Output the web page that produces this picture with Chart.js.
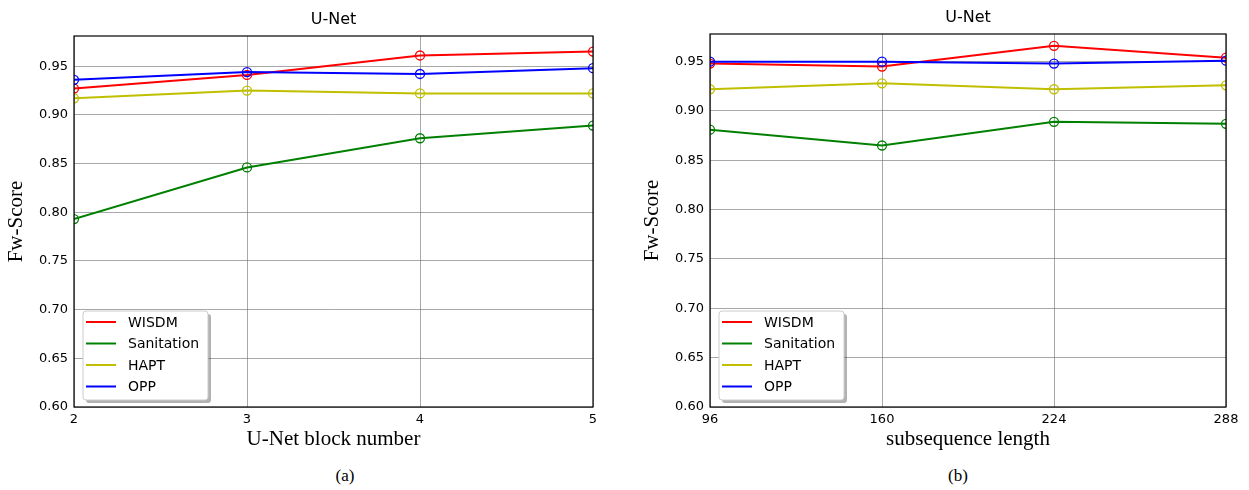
<!DOCTYPE html>
<html>
<head>
<meta charset="utf-8">
<script src="https://cdn.jsdelivr.net/npm/chart.js"></script>
<style>
	body { margin: 0; background: #fff; width: 1249px; height: 490px; position: relative; overflow: hidden; }
	canvas { position: absolute; top: 0; }
	#leftcanvas { left: 0; }
	#rightcanvas { left: 636px; }
	.sub { position: absolute; top: 466px; font-family: "Liberation Serif", "Times New Roman", serif; font-size: 17px; color: #000; transform: translateX(-50%); }
</style>
</head>
<body>
<canvas id="leftcanvas" width="624" height="460"></canvas>
<canvas id="rightcanvas" width="613" height="460"></canvas>
<div class="sub" style="left:345px">(a)</div>
<div class="sub" style="left:958px">(b)</div>
<script>
// series names and colours
var seriesNames = ["WISDM", "Sanitation", "HAPT", "OPP"];
var seriesColors = ["#ff0000", "#008000", "#bfbf00", "#0000ff"];

// (a) U-Net block number
var blockNumbers = [2, 3, 4, 5];
var wisdmBlock = [0.927, 0.941, 0.961, 0.965];
var sanitationBlock = [0.793, 0.846, 0.876, 0.889];
var haptBlock = [0.917, 0.925, 0.922, 0.922];
var oppBlock = [0.936, 0.944, 0.942, 0.948];

// (b) subsequence length
var seqLengths = [96, 160, 224, 288];
var wisdmSeq = [0.948, 0.945, 0.966, 0.954];
var sanitationSeq = [0.881, 0.865, 0.889, 0.887];
var haptSeq = [0.922, 0.928, 0.922, 0.926];
var oppSeq = [0.950, 0.950, 0.948, 0.951];

var yTicks = [0.60, 0.65, 0.70, 0.75, 0.80, 0.85, 0.90, 0.95];

var sansFont = '"DejaVu Sans", sans-serif';
var serifFont = '"Liberation Serif", "Times New Roman", serif';

// frame, title over the plot area, and a matplotlib-like legend in the lower left
var framePlugin = {
	id: 'frame',
	afterDatasetsDraw: function(chart) {
		var a = chart.chartArea, ctx = chart.ctx;
		ctx.save();
		ctx.strokeStyle = '#000';
		ctx.lineWidth = 1.2;
		ctx.strokeRect(a.left, a.top, a.right - a.left, a.bottom - a.top);
		ctx.restore();
	},
	afterDraw: function(chart) {
		var a = chart.chartArea, ctx = chart.ctx;
		ctx.save();
		ctx.fillStyle = '#000';
		ctx.font = '16px ' + sansFont;
		ctx.textAlign = 'center';
		ctx.textBaseline = 'middle';
		ctx.fillText(chart.options.plotTitle, (a.left + a.right) / 2, a.top - 16);

		// legend box
		var bx = a.left + 9, bw = 125, bh = 89, by = a.bottom - 7 - bh;
		ctx.fillStyle = 'rgba(0,0,0,0.3)';
		roundRect(ctx, bx + 3, by + 3, bw, bh, 3);
		ctx.fill();
		ctx.fillStyle = '#fff';
		ctx.strokeStyle = '#cccccc';
		ctx.lineWidth = 1;
		roundRect(ctx, bx, by, bw, bh, 3);
		ctx.fill();
		ctx.stroke();
		ctx.font = '14px ' + sansFont;
		ctx.textAlign = 'left';
		for (var i = 0; i < seriesNames.length; i++) {
			var ry = by + 11 + i * 21.5;
			ctx.strokeStyle = seriesColors[i];
			ctx.lineWidth = 2;
			ctx.beginPath();
			ctx.moveTo(bx + 3, ry);
			ctx.lineTo(bx + 33, ry);
			ctx.stroke();
			ctx.fillStyle = '#000';
			ctx.fillText(seriesNames[i], bx + 45, ry + 1);
		}
		ctx.restore();
	}
};

function roundRect(ctx, x, y, w, h, r) {
	ctx.beginPath();
	ctx.moveTo(x + r, y);
	ctx.lineTo(x + w - r, y);
	ctx.quadraticCurveTo(x + w, y, x + w, y + r);
	ctx.lineTo(x + w, y + h - r);
	ctx.quadraticCurveTo(x + w, y + h, x + w - r, y + h);
	ctx.lineTo(x + r, y + h);
	ctx.quadraticCurveTo(x, y + h, x, y + h - r);
	ctx.lineTo(x, y + r);
	ctx.quadraticCurveTo(x, y, x + r, y);
	ctx.closePath();
}

function makeDatasets(xs, seriesList) {
	return seriesList.map(function(vals, i) {
		return {
			label: seriesNames[i],
			data: xs.map(function(x, j) { return {x: x, y: vals[j]}; }),
			borderColor: seriesColors[i],
			borderWidth: 2,
			pointRadius: 4.5,
			pointBorderWidth: 1.3,
			pointBackgroundColor: 'rgba(0,0,0,0)',
			pointBorderColor: seriesColors[i],
			tension: 0,
			order: seriesList.length - i
		};
	});
}

function makeChart(id, xs, seriesList, xTitle, padTop, padRight, yMax) {
	var ctx = document.getElementById(id).getContext("2d");
	return new Chart(ctx, {
		type: 'line',
		data: { datasets: makeDatasets(xs, seriesList) },
		plugins: [framePlugin],
		options: {
			plotTitle: 'U-Net',
			responsive: false,
			animation: false,
			layout: { padding: { top: padTop, right: padRight, left: 0, bottom: 0 } },
			plugins: {
				legend: { display: false },
				title: { display: false },
				tooltip: { enabled: false }
			},
			scales: {
				x: {
					type: 'linear',
					min: xs[0],
					max: xs[xs.length - 1],
					afterBuildTicks: function(scale) {
						scale.ticks = xs.map(function(v) { return {value: v}; });
					},
					afterFit: function(scale) { scale.height = 53; },
					grid: { color: 'rgba(110,110,110,0.6)', lineWidth: 1, drawTicks: false },
					border: { display: false },
					ticks: { color: '#000', padding: 5, maxRotation: 0, font: { family: sansFont, size: 13 } },
					title: { display: true, text: xTitle, color: '#000', font: { family: serifFont, size: 21 }, padding: { top: 0, bottom: 8 } }
				},
				y: {
					min: 0.6,
					max: yMax,
					afterBuildTicks: function(scale) {
						scale.ticks = yTicks.map(function(v) { return {value: v}; });
					},
					afterFit: function(scale) { scale.width = 74; },
					grid: { color: 'rgba(110,110,110,0.6)', lineWidth: 1, drawTicks: false },
					border: { display: false },
					ticks: {
						color: '#000', padding: 6, font: { family: sansFont, size: 13 },
						callback: function(v) { return v.toFixed(2); }
					},
					title: { display: true, text: 'Fw-Score', color: '#000', font: { family: serifFont, size: 21 }, padding: { top: 4, bottom: 0 } }
				}
			}
		}
	});
}

window.onload = function() {
	window.leftChart = makeChart("leftcanvas", blockNumbers,
		[wisdmBlock, sanitationBlock, haptBlock, oppBlock], 'U-Net block number', 36, 31, 0.981);
	window.rightChart = makeChart("rightcanvas", seqLengths,
		[wisdmSeq, sanitationSeq, haptSeq, oppSeq], 'subsequence length', 34, 23, 0.978);
};
</script>
</body>
</html>
